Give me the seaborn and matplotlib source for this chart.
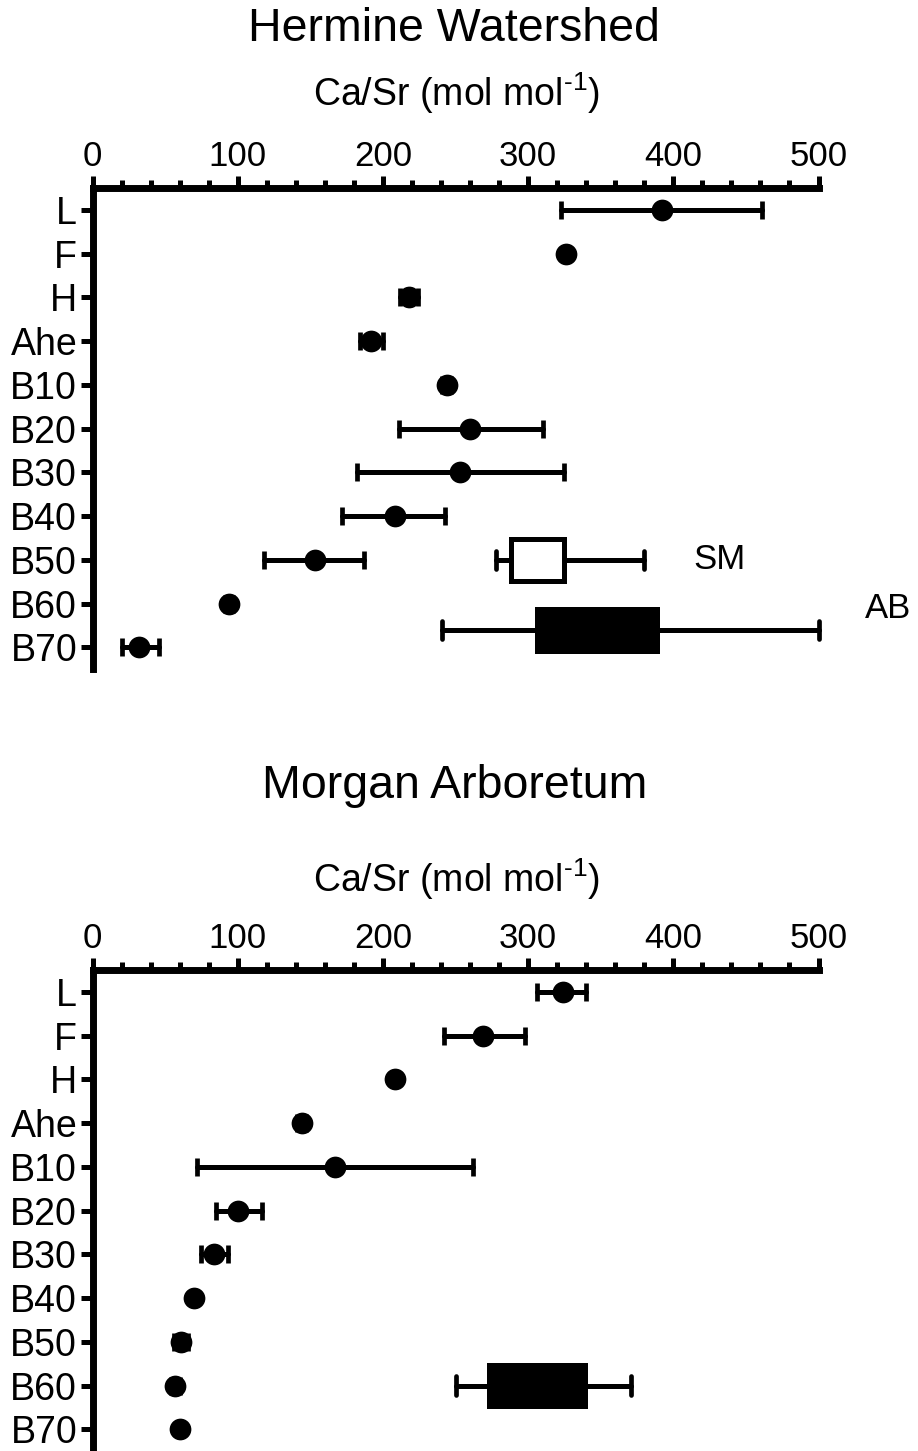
import numpy as np
import matplotlib
matplotlib.use("Agg")
import matplotlib.pyplot as plt
import seaborn as sns
import pandas as pd

# ---------------- data ----------------
categories = ['L', 'F', 'H', 'Ahe', 'B10', 'B20', 'B30', 'B40', 'B50', 'B60', 'B70']

hw_mean = [392, 326, 218, 192, 244, 260, 253, 208, 153, 94, 32]
hw_low  = [323, 324, 212, 184, 241, 211, 182, 172, 118, 91, 20]
hw_high = [461, 328, 224, 200, 247, 310, 325, 243, 187, 97, 46]

ma_mean = [324, 269, 208, 144, 167, 100, 84, 70, 61, 57, 60]
ma_low  = [306, 242, 206, 141, 72, 85, 75, 68, 56, 54, 58]
ma_high = [340, 298, 210, 147, 262, 117, 93, 72, 66, 60, 62]

# reference ranges (box = interquartile, whiskers = range)
hw_boxes = [
    dict(label='SM', whislo=278, q1=288, med=288, q3=325, whishi=380, pos=8.0, fill='white'),
    dict(label='AB', whislo=241, q1=306, med=306, q3=389, whishi=500, pos=9.6, fill='black'),
]
ma_boxes = [
    dict(label='', whislo=250, q1=273, med=273, q3=339, whishi=371, pos=9.0, fill='black'),
]

titles = ['Hermine Watershed', 'Morgan Arboretum']
xlabel = r'Ca/Sr (mol mol$^{\text{-1}}$)'
xticks = [0, 100, 200, 300, 400, 500]

# ---------------- style ----------------
sns.set_style('ticks')
plt.rcParams['font.family'] = ['Liberation Sans', 'DejaVu Sans']
plt.rcParams['mathtext.fontset'] = 'custom'
plt.rcParams['mathtext.rm'] = 'Liberation Sans'
for k in ['text.color', 'axes.labelcolor', 'xtick.color', 'ytick.color', 'axes.edgecolor']:
    plt.rcParams[k] = 'black'

W, H = 918, 1451
fig = plt.figure(figsize=(W / 100, H / 100), dpi=100)

def px2fy(py):
    return 1 - py / H

left = 92.5 / W
right = 818.5 / W
row_px = 43.75
panels = [
    dict(top=188, title_y=29, sub_y=93, mean=hw_mean, lo=hw_low, hi=hw_high, boxes=hw_boxes),
    dict(top=970, title_y=786, sub_y=879, mean=ma_mean, lo=ma_low, hi=ma_high, boxes=ma_boxes),
]

LW_SPINE = 5.0
LW_ERR = 3.6

for i, p in enumerate(panels):
    h_px = row_px * 11
    ax = fig.add_axes([left, px2fy(p['top'] + h_px), right - left, h_px / H])
    pos = np.arange(len(categories))
    df = pd.DataFrame({'x': p['mean'], 'y': pos})
    mean = np.array(p['mean'])
    xerr = np.vstack([mean - np.array(p['lo']), np.array(p['hi']) - mean])
    eb = ax.errorbar(mean, pos, xerr=xerr, fmt='none', ecolor='black',
                     elinewidth=LW_ERR, capsize=6.5, capthick=3.4, zorder=3)
    for coll in eb[2]:
        coll.set_capstyle('round')
    sns.scatterplot(data=df, x='x', y='y', ax=ax, color='black', s=245,
                    marker='o', edgecolor='black', linewidth=0, zorder=4, legend=False)

    for b in p['boxes']:
        stats = [dict(whislo=b['whislo'], q1=b['q1'], med=b['med'], q3=b['q3'],
                      whishi=b['whishi'], fliers=[])]
        ax.hlines(b['pos'], b['whislo'], b['whishi'], color='black',
                  linewidth=LW_ERR, zorder=2, clip_on=False)
        bp = ax.bxp(stats, positions=[b['pos']], vert=False, widths=0.95,
                    patch_artist=True, showfliers=False, capwidths=0.42,
                    boxprops=dict(facecolor=b['fill'], edgecolor='black', linewidth=3.6),
                    whiskerprops=dict(color='black', linewidth=LW_ERR),
                    capprops=dict(color='black', linewidth=3.4, solid_capstyle='round'),
                    medianprops=dict(linewidth=0), manage_ticks=False, zorder=3)
        for art in bp['boxes'] + bp['whiskers'] + bp['caps']:
            art.set_clip_on(False)
        if b['label'] == 'SM':
            ax.text(432, b['pos'], 'SM', ha='center', va='center', fontsize=25, clip_on=False)
        elif b['label'] == 'AB':
            ax.text(548, 9.1, 'AB', ha='center', va='center', fontsize=25, clip_on=False)

    ax.set_xlim(0, 500)
    ax.set_ylim(10.5, -0.5)
    ax.set_xticks(xticks)
    ax.set_xticks(np.arange(0, 501, 20), minor=True)
    ax.set_xticklabels([str(t) for t in xticks])
    ax.set_yticks(pos)
    ax.set_yticklabels(categories)
    ax.xaxis.tick_top()
    ax.set_xlabel('')
    ax.set_ylabel('')
    for s in ['right', 'bottom']:
        ax.spines[s].set_visible(False)
    for s in ['top', 'left']:
        ax.spines[s].set_linewidth(LW_SPINE)
        ax.spines[s].set_color('black')
        ax.spines[s].set_capstyle('projecting')
    ax.tick_params(axis='x', which='major', direction='out', length=8.5, width=3.6,
                   labelsize=25, pad=2, top=True, bottom=False, colors='black')
    ax.tick_params(axis='x', which='minor', direction='out', length=6, width=3.6,
                   top=True, bottom=False, colors='black')
    ax.tick_params(axis='y', which='major', direction='out', length=9, width=3.6,
                   labelsize=27, pad=2, colors='black')
    ax.patch.set_alpha(0)

    fig.text(0.495, px2fy(p['title_y']), titles[i], ha='center', va='center', fontsize=33.5)
    fig.text(0.497, px2fy(p['sub_y']), xlabel, ha='center', va='center', fontsize=27)

fig.savefig('out.png', dpi=100)
